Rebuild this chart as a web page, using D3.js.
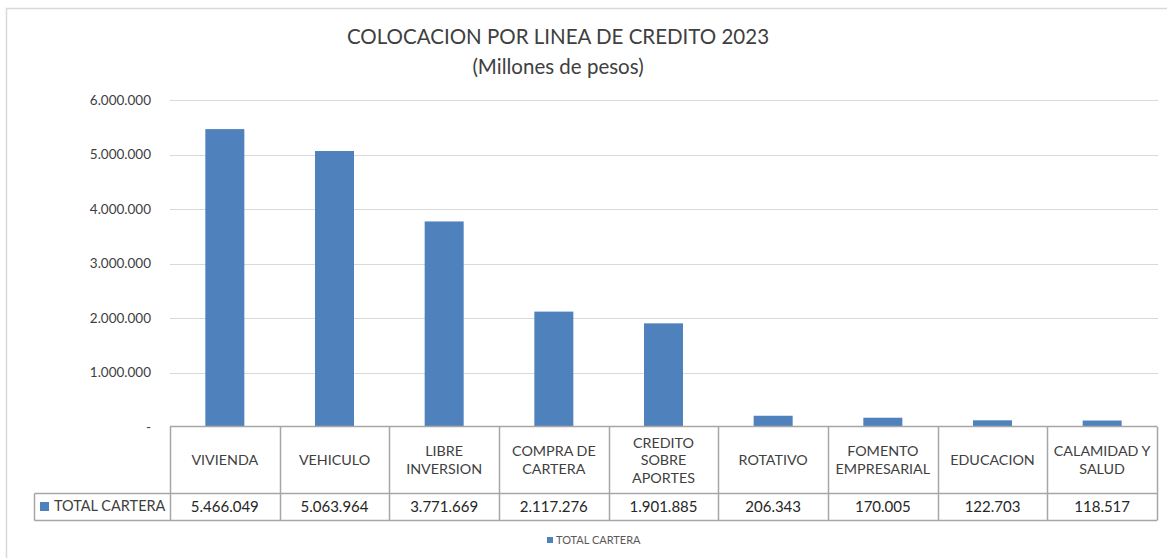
<!DOCTYPE html>
<html>
<head>
<meta charset="utf-8">
<script src="https://cdn.jsdelivr.net/npm/d3@7"></script>
<style>
  body { margin: 0; background: #fff; }
  svg { font-family: Lato, "Open Sans", sans-serif; }
</style>
</head>
<body>
<svg id="chart" width="1167" height="558"></svg>
<script>
// data
const categories = [
  ["VIVIENDA"],
  ["VEHICULO"],
  ["LIBRE", "INVERSION"],
  ["COMPRA DE", "CARTERA"],
  ["CREDITO", "SOBRE", "APORTES"],
  ["ROTATIVO"],
  ["FOMENTO", "EMPRESARIAL"],
  ["EDUCACION"],
  ["CALAMIDAD Y", "SALUD"]
];
const values = [5466049, 5063964, 3771669, 2117276, 1901885, 206343, 170005, 122703, 118517];
const seriesName = "TOTAL CARTERA";
const yTicks = [0, 1000000, 2000000, 3000000, 4000000, 5000000, 6000000];

const BAR = "#4f81bd";
const TEXT = "#404040";
const GRID = "#d9d9d9";
const TABLELINE = "#a6a6a6";

var svg = d3.select("#chart");

// dotted-thousands format used in the sheet
var fmt = function(v) { return v === 0 ? "-" : d3.format(",")(v).replace(/,/g, "."); };

// outer chart frame (cut off on right and bottom)
svg.append("path")
  .attr("d", "M6.5,558 V8.5 H1167")
  .attr("fill", "none")
  .attr("stroke", "#d9d9d9")
  .attr("stroke-width", 1.5);

// title
svg.append("text")
  .attr("x", 558).attr("y", 44)
  .attr("text-anchor", "middle")
  .attr("fill", TEXT).attr("font-size", 20.5)
  .text("COLOCACION POR LINEA DE CREDITO 2023");
svg.append("text")
  .attr("x", 558).attr("y", 74)
  .attr("text-anchor", "middle")
  .attr("fill", TEXT).attr("font-size", 20.5)
  .text("(Millones de pesos)");

var plotLeft = 170, plotRight = 1157;
var x = d3.scaleBand()
  .domain(d3.range(values.length))
  .range([plotLeft, plotRight])
  .paddingInner(0)
  .paddingOuter(0);

var y = d3.scaleLinear()
  .domain([0, 6000000])
  .range([427, 100]);

// gridlines
svg.append("g")
  .selectAll("line")
  .data(yTicks.filter(d => d > 0))
  .enter().append("line")
    .attr("x1", plotLeft).attr("x2", plotRight + 1)
    .attr("y1", d => Math.round(y(d)) + 0.5)
    .attr("y2", d => Math.round(y(d)) + 0.5)
    .attr("stroke", GRID);

// y axis labels (no axis line)
var yAxis = d3.axisLeft(y).tickValues(yTicks).tickSize(0).tickPadding(0).tickFormat(fmt);
var yg = svg.append("g")
  .attr("transform", "translate(151,0)")
  .call(yAxis);
yg.select(".domain").remove();
yg.selectAll("text")
  .attr("fill", TEXT)
  .attr("font-size", 13.5)
  .attr("font-family", "Lato, sans-serif");

// bars
var barW = 39;
svg.append("g")
  .selectAll("rect")
  .data(values)
  .enter().append("rect")
    .attr("x", (d, i) => x(i) + x.bandwidth() / 2 - barW / 2)
    .attr("y", d => y(d))
    .attr("width", barW)
    .attr("height", d => y(0) - y(d))
    .attr("fill", BAR);

// data table under the plot
var tTop = 426.5, tMid = 493.5, tBot = 520.5, legendLeft = 34.5;
var tbl = svg.append("g")
  .attr("stroke", TABLELINE)
  .attr("stroke-width", 1.5)
  .attr("fill", "none");

tbl.append("line").attr("x1", plotLeft).attr("x2", plotRight).attr("y1", tTop).attr("y2", tTop);
tbl.append("line").attr("x1", legendLeft).attr("x2", plotRight).attr("y1", tMid).attr("y2", tMid);
tbl.append("line").attr("x1", legendLeft).attr("x2", plotRight).attr("y1", tBot).attr("y2", tBot);
tbl.append("line").attr("x1", legendLeft).attr("x2", legendLeft).attr("y1", tMid).attr("y2", tBot);
tbl.selectAll(".vline")
  .data(d3.range(values.length + 1))
  .enter().append("line")
    .attr("class", "vline")
    .attr("x1", i => Math.round(plotLeft + i * x.bandwidth()) + 0.5)
    .attr("x2", i => Math.round(plotLeft + i * x.bandwidth()) + 0.5)
    .attr("y1", tTop).attr("y2", tBot);

// category headers
var lineH = 17.5;
var headers = svg.append("g")
  .selectAll("text")
  .data(categories)
  .enter().append("text")
    .attr("text-anchor", "middle")
    .attr("fill", TEXT)
    .attr("font-size", 14.3)
    .attr("transform", (d, i) => "translate(" + (x(i) + x.bandwidth() / 2) + "," + ((tTop + tMid) / 2 + 5 - (d.length - 1) * lineH / 2) + ")");
headers.selectAll("tspan")
  .data(d => d)
  .enter().append("tspan")
    .attr("x", 0)
    .attr("dy", (d, j) => j === 0 ? 0 : lineH)
    .text(d => d);

// values row
svg.append("g")
  .selectAll("text")
  .data(values)
  .enter().append("text")
    .attr("x", (d, i) => x(i) + x.bandwidth() / 2)
    .attr("y", (tMid + tBot) / 2 + 5)
    .attr("text-anchor", "middle")
    .attr("fill", "#262626")
    .attr("font-size", 15)
    .text(fmt);

// legend key in table
svg.append("rect")
  .attr("x", 40).attr("y", 502).attr("width", 9).attr("height", 9)
  .attr("fill", BAR);
svg.append("text")
  .attr("x", 54).attr("y", 511)
  .attr("fill", TEXT).attr("font-size", 14.5)
  .text(seriesName);

// bottom legend
svg.append("rect")
  .attr("x", 547).attr("y", 537).attr("width", 6).attr("height", 6)
  .attr("fill", BAR);
svg.append("text")
  .attr("x", 556).attr("y", 544)
  .attr("fill", "#595959").attr("font-size", 11)
  .text(seriesName);
</script>
</body>
</html>
